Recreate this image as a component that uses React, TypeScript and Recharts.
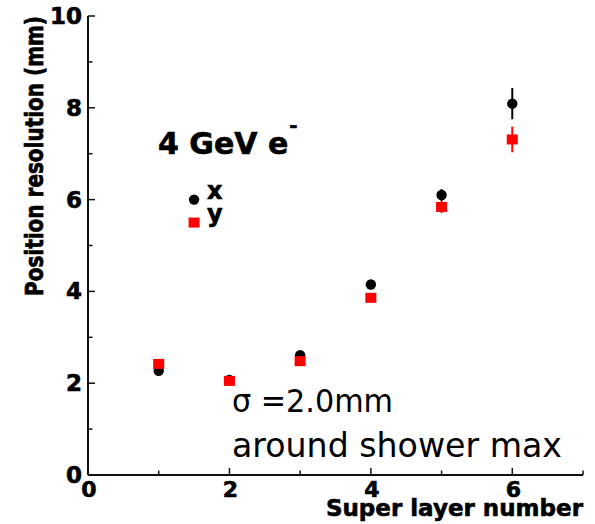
import React from "react";
import { ErrorBar, Scatter, ScatterChart, XAxis, YAxis } from "recharts";

const layers = [1, 2, 3, 4, 5, 6];
const xResolution = [2.27, 2.07, 2.61, 4.15, 6.1, 8.09];
const xError = [0.04, 0.04, 0.05, 0.08, 0.13, 0.34];
const yResolution = [2.42, 2.05, 2.48, 3.86, 5.84, 7.31];
const yError = [0.04, 0.04, 0.05, 0.08, 0.13, 0.28];

// legend markers sit inside the frame, at layer 1.5
const legendLayer = [1.5];
const legendX = [6.0];
const legendY = [5.5];

const xTicks = [0, 1, 2, 3, 4, 5, 6, 7];
const yTicks = [0, 1, 2, 3, 4, 5, 6, 7, 8, 9, 10];

const xData = layers.map((layer, i) => ({ layer, res: xResolution[i], err: xError[i] }));
const yData = layers.map((layer, i) => ({ layer, res: yResolution[i], err: yError[i] }));
const legendXData = legendLayer.map((layer, i) => ({ layer, res: legendX[i] }));
const legendYData = legendLayer.map((layer, i) => ({ layer, res: legendY[i] }));

const BOLD = "'DejaVu Sans', sans-serif";
const INK = "#111";
const heavy = { fontFamily: BOLD, fontWeight: "bold" as const, fill: "#000", stroke: "#000", strokeWidth: 0.6 };

type Side = "bottom" | "top" | "left" | "right";

function makeTick(side: Side, labelled: boolean) {
  return (props: any) => {
    const { x, y, payload } = props;
    const v = Number(payload.value);
    const major = v % 2 === 0;
    const len = major ? 7 : 4.5;
    let line = { x1: x, y1: y, x2: x, y2: y };
    if (side === "bottom") line = { x1: x, y1: y, x2: x, y2: y - len };
    if (side === "top") line = { x1: x, y1: y, x2: x, y2: y + len };
    if (side === "left") line = { x1: x, y1: y, x2: x + len, y2: y };
    if (side === "right") line = { x1: x, y1: y, x2: x - len, y2: y };
    return (
      <g>
        <line {...line} stroke={INK} strokeWidth={1.5} />
        {labelled && major && side === "bottom" ? (
          <text x={x + 1} y={y + 22} textAnchor="middle" fontSize={22} {...heavy}>
            {v}
          </text>
        ) : null}
        {labelled && major && side === "left" ? (
          <text x={x - 6} y={y + 8} textAnchor="end" fontSize={23} {...heavy}>
            {v}
          </text>
        ) : null}
      </g>
    );
  };
}

const Dot = (props: any) => <circle cx={props.cx} cy={props.cy} r={5.2} fill="#000" />;
const Square = (props: any) => (
  <rect x={props.cx - 5.5} y={props.cy - 5} width={11} height={10} fill="#ff0000" />
);

export default function App(): React.ReactElement {
  return (
    <div style={{ position: "absolute", left: 0, top: 0, width: 595, height: 524, background: "#fff" }}>
      <ScatterChart width={595} height={524} margin={{ top: 16, right: 12, bottom: 0, left: 0 }}>
        <XAxis
          xAxisId="b"
          type="number"
          dataKey="layer"
          orientation="bottom"
          domain={[0, 7]}
          allowDataOverflow
          ticks={xTicks}
          interval={0}
          height={49}
          tickSize={0}
          tickMargin={0}
          tickLine={false}
          axisLine={{ stroke: INK, strokeWidth: 2 }}
          tick={makeTick("bottom", true)}
        />
        <XAxis
          xAxisId="t"
          type="number"
          dataKey="layer"
          orientation="top"
          domain={[0, 7]}
          allowDataOverflow
          ticks={xTicks}
          interval={0}
          height={0}
          tickSize={0}
          tickMargin={0}
          tickLine={false}
          axisLine={{ stroke: INK, strokeWidth: 1.5 }}
          tick={makeTick("top", false)}
        />
        <YAxis
          yAxisId="l"
          type="number"
          dataKey="res"
          orientation="left"
          domain={[0, 10]}
          allowDataOverflow
          ticks={yTicks}
          interval={0}
          width={88}
          tickSize={0}
          tickMargin={0}
          tickLine={false}
          axisLine={{ stroke: INK, strokeWidth: 2 }}
          tick={makeTick("left", true)}
        />
        <YAxis
          yAxisId="r"
          type="number"
          dataKey="res"
          orientation="right"
          domain={[0, 10]}
          allowDataOverflow
          ticks={yTicks}
          interval={0}
          width={0}
          tickSize={0}
          tickMargin={0}
          tickLine={false}
          axisLine={{ stroke: INK, strokeWidth: 2.5 }}
          tick={makeTick("right", false)}
        />
        <Scatter xAxisId="b" yAxisId="l" data={xData} shape={Dot} isAnimationActive={false}>
          <ErrorBar dataKey="err" direction="y" width={0} stroke="#000" strokeWidth={2} />
        </Scatter>
        <Scatter xAxisId="b" yAxisId="l" data={yData} shape={Square} isAnimationActive={false}>
          <ErrorBar dataKey="err" direction="y" width={0} stroke="#ff0000" strokeWidth={2} />
        </Scatter>
        <Scatter xAxisId="b" yAxisId="l" data={legendXData} shape={Dot} isAnimationActive={false} />
        <Scatter xAxisId="b" yAxisId="l" data={legendYData} shape={Square} isAnimationActive={false} />
      </ScatterChart>
      <svg
        width={595}
        height={524}
        style={{ position: "absolute", left: 0, top: 0, pointerEvents: "none" }}
      >
        <text
          transform="translate(43, 156) rotate(-90) scale(1, 1.2)"
          textAnchor="middle"
          fontSize={20}
          {...heavy}
        >
          Position resolution (mm)
        </text>
        <text x={583} y={516} textAnchor="end" fontSize={23} {...heavy}>
          Super layer number
        </text>
        <text x={158} y={154} fontSize={30} {...heavy}>
          4 GeV e
          <tspan dx={1} dy={-22} fontSize={20}>
            -
          </tspan>
        </text>
        <text x={207} y={199} fontSize={24} {...heavy}>
          x
        </text>
        <text x={207} y={222} fontSize={24} {...heavy}>
          y
        </text>
        <text
          x={232}
          y={412}
          fontFamily="'DejaVu Sans', sans-serif"
          fontSize={32}
          textLength={161}
          lengthAdjust="spacingAndGlyphs"
          fill="#000"
        >
          σ =2.0mm
        </text>
        <text
          x={232}
          y={457}
          fontFamily="'DejaVu Sans', sans-serif"
          fontSize={33}
          textLength={330}
          lengthAdjust="spacingAndGlyphs"
          fill="#000"
        >
          around shower max
        </text>
      </svg>
    </div>
  );
}
